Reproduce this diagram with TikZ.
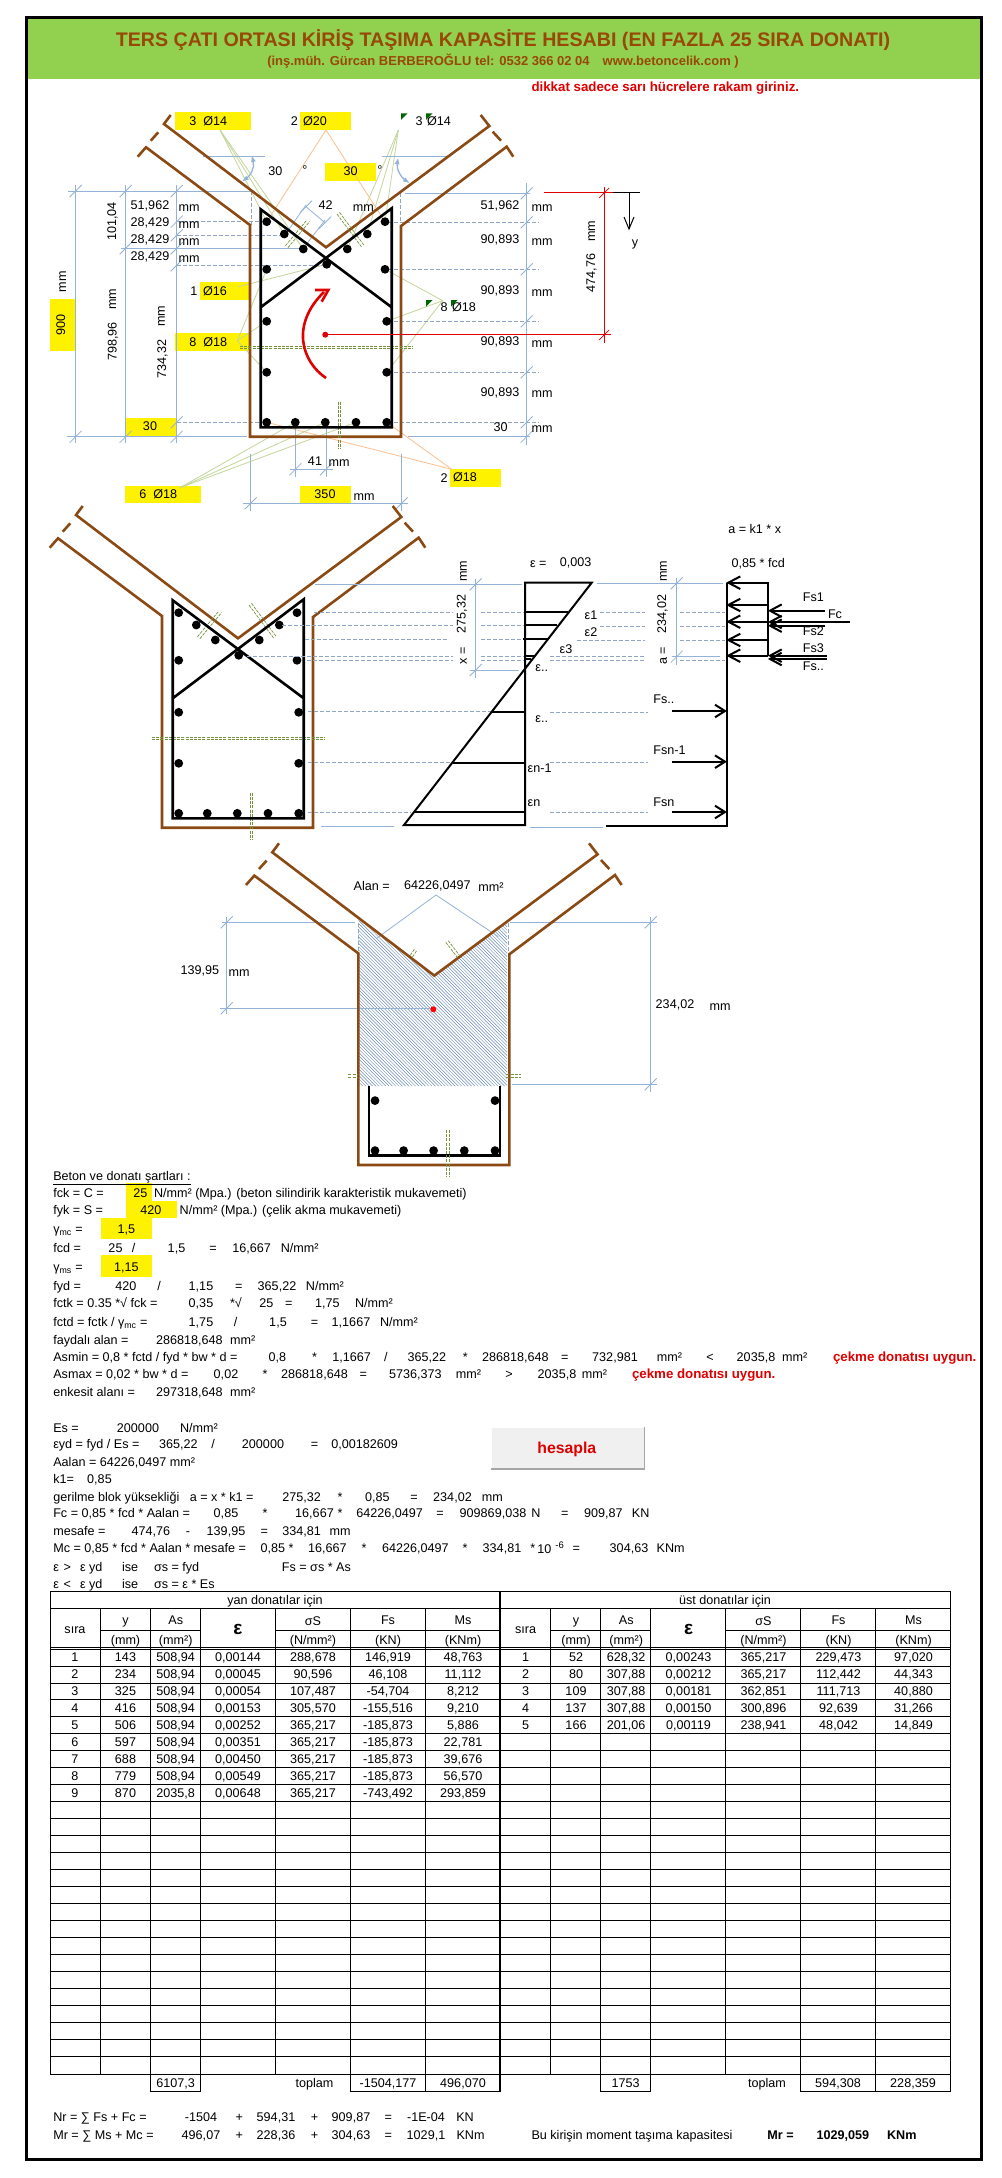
\documentclass[tikz,border=0pt]{standalone}
\usepackage{fontspec}
\setmainfont{Liberation Sans}
\usetikzlibrary{arrows.meta}
\definecolor{cbrown}{HTML}{8B4A14}
\definecolor{ctitle}{HTML}{984807}
\definecolor{cgreen}{HTML}{92D050}
\definecolor{cdim}{HTML}{95B3D7}
\definecolor{cdash}{HTML}{8FA5C2}
\definecolor{colive}{HTML}{76923C}
\definecolor{cleafg}{HTML}{C3D69B}
\definecolor{cleafo}{HTML}{FAC090}
\definecolor{cmark}{HTML}{006400}
\definecolor{chatch}{HTML}{6C8CB5}
\definecolor{cred}{HTML}{E00000}
\newcommand{\fN}{\fontsize{12.6}{15}\selectfont}
\newcommand{\fR}{\fontsize{13.3}{15}\selectfont\bfseries}
\tikzset{
 txt/.style={inner sep=0pt,outer sep=0pt,font=\fN,text=black},
 brn/.style={draw=cbrown,line width=2.6pt,line join=miter},
 stir/.style={draw=black,line width=2.6pt,line join=miter},
 thk/.style={draw=black,line width=2pt},
 dimline/.style={draw=cdim,line width=0.8pt},
 dimdash/.style={draw=cdash,line width=0.8pt,dash pattern=on 4pt off 2pt},
 oliv/.style={draw=colive,line width=0.7pt,dash pattern=on 3pt off 1.2pt},
 leafg/.style={draw=cleafg,line width=0.8pt},
 leafo/.style={draw=cleafo,line width=0.8pt},
 tbl/.style={draw=black,line width=0.9pt},
 yel/.style={fill=yellow,draw=none}
}
% text helpers
\newcommand{\tL}[3]{\node[txt,anchor=base west] at (#1,#2+4.5) {#3};}
\newcommand{\tC}[3]{\node[txt,anchor=base] at (#1,#2+4.5) {#3};}
\newcommand{\tV}[3]{\node[txt,anchor=base,rotate=90] at (#1+4.5,#2) {#3};}
\newcommand{\yB}[4]{\fill[yel] (#1,#2) rectangle (#3,#4);}
\newcommand{\dT}[2]{\draw[dimline] (#1-6,#2+6) -- (#1+6,#2-6);}
\newcommand{\gT}[2]{\fill[cmark] (#1,#2) -- (#1+6.5,#2) -- (#1,#2+6.5) -- cycle;}
\newcommand{\rB}[2]{\fill[black] (#1,#2) circle (4.4);}
% beam geometry
\newcommand{\brownV}{%
 \draw[brn] (137.7,156.7)--(146,147.3)--(250,225)--(250,436.7)--(401,436.7)--(401,226)--(506.7,146.7)--(513.3,156.7);
 \draw[brn] (170.7,115)--(164,124)--(326,247.3)--(489.3,126)--(480.7,115);
 \draw[brn] (150.7,140.7)--(158.3,132.3);
 \draw[brn] (492.7,131.7)--(501,140.7);
}
\newcommand{\fullStir}{%
 \draw[stir] (391.7,307.3)--(260.7,209.3)--(260.7,427.3)--(391.7,427.3)--(391.7,208.3)--(260.7,307.3);
 \foreach \a/\b in {266.7/221.7,284.3/234,303.3/249,347.3/249,367.3/234,385/221.7,326.7/264.3,266.7/269.3,385/269.3,266.7/321.3,386.7/321.3,266.7/372.3,386.7/372.3}{\rB{\a}{\b}}
 \foreach \a in {266.7,295.3,325.3,356,386.7}{\rB{\a}{422.3}}
}
\newcommand{\olives}{%
 \draw[oliv] (240,346)--(413,346); \draw[oliv] (240,348.7)--(413,348.7);
 \draw[oliv] (338.3,401.7)--(338.3,448.3); \draw[oliv] (340.7,401.7)--(340.7,448.3);
 \draw[oliv] (285.5,245.7)--(307.1,219.7); \draw[oliv] (287.9,247.7)--(309.5,221.7);
 \draw[oliv] (339.5,212.4)--(363.9,245.1); \draw[oliv] (337.1,214.2)--(361.5,246.9);
}
\newcommand{\rowT}[9]{%
 \pgfmathsetmacro{\ry}{1657.3+(#2-1)*16.97}
 \tC{#1+25}{\ry}{#3}\tC{#1+75.5}{\ry}{#4}\tC{#1+125.7}{\ry}{#5}\tC{#1+188}{\ry}{#6}\tC{#1+263}{\ry}{#7}\tC{#1+338}{\ry}{#8}\tC{#1+413}{\ry}{#9}
}
\newcommand{\headT}[1]{%
 \tC{#1+25}{1629}{sıra}\tC{#1+75.5}{1620}{y}\tC{#1+75.5}{1640}{(mm)}\tC{#1+125.7}{1620}{As}\tC{#1+125.7}{1640}{(mm²)}
 \node[txt,anchor=base,font=\fontsize{19}{20}\selectfont\bfseries] at (#1+188,1634.5) {ε};
 \tC{#1+263}{1621}{σS}\tC{#1+263}{1640}{(N/mm²)}\tC{#1+338}{1620}{Fs}\tC{#1+338}{1640}{(KN)}\tC{#1+413}{1620}{Ms}\tC{#1+413}{1640}{(KNm)}
}
\begin{document}
\begin{tikzpicture}[x=1pt,y=-1pt]
\useasboundingbox (0,0) rectangle (1001,2178);
\fill[white] (0,0) rectangle (1001,2178);
% header
\fill[cgreen] (26,18) rectangle (981,79);
\draw[black,line width=3pt] (26,18) rectangle (981,2159);
\node[txt,anchor=base,text=ctitle,font=\fontsize{19.65}{21}\selectfont\bfseries] at (503,47) {TERS ÇATI ORTASI KİRİŞ TAŞIMA KAPASİTE HESABI (EN FAZLA 25 SIRA DONATI)};
\node[txt,anchor=base,text=ctitle,font=\fontsize{13}{15}\selectfont\bfseries] at (503,66) {(inş.müh. Gürcan BERBEROĞLU tel: 0532 366 02 04\quad www.betoncelik.com )};
\node[txt,anchor=base west,text=cred,font=\fR] at (531.5,91.8) {dikkat sadece sarı hücrelere rakam giriniz.};
% ---------- beam 1 yellow
\yB{175}{112.3}{251}{130}\yB{300}{112.3}{351}{130}\yB{325}{162.7}{375.7}{181}
\yB{50}{299}{75}{350.7}\yB{200}{282}{250}{300}\yB{175}{332.7}{250}{350.7}
\yB{126}{418}{176.7}{436}\yB{300}{486}{351}{503.3}\yB{125}{486}{201}{503.3}\yB{450}{469}{501}{486.7}
% leaders
\foreach \a/\b in {266.7/221.7,284.3/234,303.3/249}{\draw[leafg] (220,130)--(\a,\b);}
\foreach \a/\b in {347.3/249,367.3/234,385/221.7}{\draw[leafg] (398.3,130)--(\a,\b);}
\draw[leafo] (326,130)--(266.7,221.7); \draw[leafo] (326,130)--(385,221.7);
\draw[leafg] (238.3,286.7)--(326.7,264.3);
\foreach \a/\b in {266.7/269.3,266.7/321.3,266.7/372.3}{\draw[leafg] (237.3,340.7)--(\a,\b);}
\foreach \a/\b in {385/269.3,386.7/321.3,386.7/372.3}{\draw[leafg] (442.7,300.7)--(\a,\b);}
\foreach \a in {295.3,325.3,356}{\draw[leafg] (180,487.7)--(\a,422.3);}
\draw[leafo] (451.7,469.3)--(266.7,422.3); \draw[leafo] (451.7,469.3)--(386.7,422.3);
% dims left
\draw[dimline] (75.7,185)--(75.7,443); \draw[dimline] (125.7,185)--(125.7,443); \draw[dimline] (176.7,185)--(176.7,443);
\draw[dimline] (68.3,191)--(251.7,191); \draw[dimline] (67.3,436.7)--(246.7,436.7);
\draw[dimline] (120.7,248.3)--(303,248.3);
\draw[dimdash] (176.7,221.7)--(263,221.7); \draw[dimdash] (176.7,235.3)--(285,235.3); \draw[dimdash] (176.7,265.3)--(326.7,265.3);
\draw[dimdash] (176.7,422.3)--(262,422.3);
\foreach \a/\b in {75.7/191,125.7/191,176.7/191,75.7/436.7,125.7/436.7,176.7/436.7,125.7/248.3,176.7/221.7,176.7/235.3,176.7/248.3,176.7/265.3,176.7/422.3}{\dT{\a}{\b}}
\draw[dimdash] (251.7,191)--(251.7,225); \draw[dimdash] (400.7,193.3)--(400.7,221.7);
% dims right
\draw[dimline] (526.7,183)--(526.7,445);
\draw[dimline] (405,193.3)--(530,193.3); \draw[dimline] (408.3,436.7)--(530,436.7);
\foreach \b in {222.3,269.3,321.3,372.3,422.3}{\draw[dimdash] (388,\b)--(539,\b);}
\foreach \b in {193.3,222.3,269.3,321.3,372.3,422.3,436.7}{\dT{526.7}{\b}}
% angle dims
\draw[dimline] (203.3,156.7)--(265,156.7); \draw[dimline] (381.7,156.7)--(446.7,156.7);
\draw[draw=cdim,line width=1.3pt,{Latex[length=7pt,width=5pt]}-{Latex[length=7pt,width=5pt]}] (251.7,155) .. controls (255,168) and (250,176) .. (241.7,181.7);
\draw[draw=cdim,line width=1.3pt,{Latex[length=7pt,width=5pt]}-{Latex[length=7pt,width=5pt]}] (398.3,157.3) .. controls (396,170) and (402,178) .. (410,183.3);
% 42 dim
\draw[dimline] (306,205)--(285,235); \draw[dimline] (325,220)--(303.3,248.3); \draw[dimline] (306,206.7)--(325,222.7);
\dT{306}{206.7}\dT{325}{222.7}
% 41 and 350 dims
\draw[dimline] (295.3,422.3)--(295.3,477); \draw[dimline] (326,422.3)--(326,477); \draw[dimline] (290,469.3)--(332.7,469.3);
\dT{295.3}{469.3}\dT{326}{469.3}
\draw[dimline] (243.3,503.3)--(407.7,503.3); \draw[dimline] (250.7,454.3)--(250.7,511); \draw[dimline] (401.7,454.3)--(401.7,511);
\dT{250.7}{503.3}\dT{401.7}{503.3}
% beam 1
\brownV\olives\fullStir
% red
\fill[cred] (325.3,334.7) circle (3);
\draw[cred,line width=1pt] (325.3,334.7)--(611,334.7);
\draw[cred,line width=1pt] (543.6,193)--(613,193);
\draw[cred,line width=0.7pt] (604,187)--(604,343);
\draw[cred,line width=0.7pt] (599,198)--(609,188); \draw[cred,line width=0.7pt] (599,340)--(609,330);
\draw[cred,line width=2.6pt] (326,378) .. controls (302,362) and (290,325) .. (324,292);
\draw[cred,line width=2.6pt] (315,290)--(328.3,290)--(321.7,301.7);
\draw[black,line width=1pt] (613,193)--(640,193);
\draw[black,line width=1pt] (629,193)--(629,229);
\draw[black,line width=1pt] (624,217)--(629,229)--(634,217);
\tC{635}{241.7}{y}
\tV{590.5}{273}{474,76}\tV{590.5}{231}{mm}
% beam 1 labels
\tC{208.3}{120.7}{3\ \ Ø14}\tC{294.3}{120.7}{2}\tC{315}{120.7}{Ø20}
\tC{419}{120.7}{3}\tC{439}{120.7}{Ø14}\gT{401}{113.3}\gT{426}{113.3}
\tC{275.3}{171}{30}\tC{305}{170}{°}\tC{350.7}{171}{30}\tC{380}{170}{°}
\tC{325.7}{205.3}{42}\tC{363.3}{206.7}{mm}
\foreach \b/\c in {205.3/206.7}{\tC{150}{\b}{51,962}\tC{189}{\c}{mm}}
\foreach \b/\c in {222.3/224,239/240.7,255.7/257.7}{\tC{150}{\b}{28,429}\tC{189}{\c}{mm}}
\tV{111.7}{221.7}{101,04}\tV{61.7}{281.7}{mm}\tV{60.7}{325}{900}
\tV{111.7}{299}{mm}\tV{112}{341.7}{798,96}\tV{161.7}{359}{734,32}\tV{160.3}{316}{mm}
\tC{194}{290.7}{1}\tC{215}{290.7}{Ø16}\tC{208.3}{341.7}{8\ \ Ø18}\tC{150}{426}{30}
\tC{500}{205.3}{51,962}\tC{542}{206.7}{mm}
\foreach \b/\c in {239/241,290/292,341/343,392.3/393.3}{\tC{500}{\b}{90,893}\tC{542}{\c}{mm}}
\tC{500.7}{426.7}{30}\tC{542}{428}{mm}
\tC{444}{307.3}{8}\tC{464}{307.3}{Ø18}\gT{426}{300}\gT{451}{300}
\tC{315}{460.7}{41}\tC{339}{461.7}{mm}\tC{325}{494}{350}\tC{364}{495.7}{mm}
\tC{158.3}{494}{6\ \ Ø18}\tC{444}{477.7}{2}\tC{465}{476.7}{Ø18}
% ---------- beam 2
\begin{scope}[shift={(-88,391)}]
\brownV\olives\fullStir
\end{scope}
% dashed across strain
\draw[dimdash] (314,612.3)--(452.5,612.3); \draw[dimdash] (481,612.3)--(526,612.3);
\draw[dimdash] (282,625.3)--(452.5,625.3); \draw[dimdash] (481,625.3)--(526,625.3);
\draw[dimdash] (305,639.3)--(449,639.3); \draw[dimdash] (481,639.3)--(526,639.3);
\draw[dimdash] (247,656.3)--(452.5,656.3); \draw[dimdash] (481,656.3)--(526,656.3);
\draw[dimdash] (307,660.3)--(452.5,660.3); \draw[dimdash] (481,660.3)--(526,660.3);
\draw[dimdash] (308,711.7)--(491,711.7);
\draw[dimdash] (308,762.7)--(452.5,762.7);
\draw[dimdash] (308,812.7)--(411,812.7);
\draw[dimdash] (600,612.3)--(645,612.3); \draw[dimdash] (680,612.3)--(725,612.3);
\draw[dimdash] (600,626.3)--(645,626.3); \draw[dimdash] (680,626.3)--(725,626.3);
\draw[dimdash] (576.7,640.3)--(645,640.3); \draw[dimdash] (680,640.3)--(725,640.3);
\draw[dimdash] (550,656.7)--(645,656.7); \draw[dimdash] (550,660)--(645,660); \draw[dimdash] (680,660)--(725,660);
\draw[dimdash] (550,712.3)--(648,712.3); \draw[dimdash] (550,762.3)--(648,762.3); \draw[dimdash] (550,812.3)--(648,812.3);
% solid dims strain
\draw[dimline] (314.5,584.3)--(521.7,584.3); \draw[dimline] (475.7,579.3)--(475.7,678.3); \draw[dimline] (470,670)--(519.3,670);
\dT{475.7}{584.3}\dT{475.7}{670}
\draw[dimline] (596.7,583.3)--(722.7,583.3); \draw[dimline] (676.7,578.3)--(676.7,665); \draw[dimline] (671.7,656.7)--(720,656.7);
\dT{676.7}{583.3}\dT{676.7}{656.7}
\draw[dimline] (530,827.3)--(603.3,827.3); \draw[dimline] (321,826.7)--(393.5,826.7);
% strain polygon
\draw[thk,line join=miter] (525,582.7)--(591.7,582.7)--(404,825)--(525,825)--cycle;
\foreach \a/\b/\c in {525/568.3/611.7,525/557.3/625,523.3/548.3/639,525/535/655.7,525/531/659.3,491.7/525/711.7,453.3/525/762.7,415/525/811.7}{\draw[thk] (\a,\c)--(\b,\c);}
% stress block
\draw[thk] (606,825.7)--(727.3,825.7)--(727.3,582.7);
\draw[thk] (767.7,581.7)--(767.7,656);
\foreach \b in {582.7,605,621.7,640,655.7}{
 \draw[thk] (727.3,\b)--(767.7,\b);
 \draw[thk] (740.3,\b-6.3)--(728.3,\b)--(740.3,\b+6.3);}
\foreach \b/\e in {610.7/825,622/850,625.7/825,655.7/826.7,659/826.7}{
 \draw[thk] (770,\b)--(\e,\b);
 \draw[thk] (781.7,\b-6.3)--(770,\b)--(781.7,\b+6.3);}
\foreach \b in {711,761.7,812}{
 \draw[thk] (671.7,\b)--(725,\b);
 \draw[thk] (715,\b-6.3)--(725,\b)--(715,\b+6.3);}
\tC{813.3}{597.3}{Fs1}\tC{835}{614.3}{Fc}\tC{813.3}{631}{Fs2}\tC{813.3}{648}{Fs3}\tC{813.3}{665.7}{Fs..}
\tL{653.3}{699.3}{Fs..}\tL{653.3}{750.3}{Fsn-1}\tL{653.3}{801.7}{Fsn}
\tL{728.3}{529.3}{a = k1 * x}\tL{731.7}{563.3}{0,85 * fcd}
\tC{538.3}{563.3}{ε =}\tC{575.7}{562.3}{0,003}
\tC{591}{615}{ε1}\tC{591}{632}{ε2}\tC{566}{649}{ε3}\tC{541.7}{666.7}{ε..}\tC{541.7}{717.7}{ε..}
\tL{527.7}{768.3}{εn-1}\tL{527.7}{802.3}{εn}
\tV{462.3}{571}{mm}\tV{461}{614}{275,32}\tV{462.3}{655.7}{x =}
\tV{662.3}{571}{mm}\tV{661.7}{614}{234,02}\tV{662.3}{655.7}{a =}
% ---------- beam 3
\begin{scope}
\clip (358.7,919.5)--(434.3,975.6)--(507,921.5)--(507,1086)--(358.7,1086)--cycle;
\foreach \c in {-730,-726.7,...,-410}{\draw[chatch,line width=0.45pt] (\c+880,880)--(\c+1100,1100);}
\end{scope}
\draw[dimdash] (358.7,922.7)--(358.7,955); \draw[dimdash] (508.3,922.7)--(508.3,955);
\draw[dimline] (221.7,922.3)--(355,922.3); \draw[dimline] (226.7,917)--(226.7,1014);
\draw[dimline] (220,1008.3)--(433.3,1008.3);
\dT{226.7}{922.3}\dT{226.7}{1008.3}
\draw[dimline] (510,922.3)--(657.3,922.3); \draw[dimline] (650.7,916.7)--(650.7,1091.7); \draw[dimline] (511.7,1084.3)--(657.3,1084.3);
\dT{650.7}{922.3}\dT{650.7}{1084.3}
\draw[dimline] (436,895)--(376.7,938.3); \draw[dimline] (436,895)--(498.3,936.7);
\begin{scope}[shift={(108.3,728.3)}]
\brownV
\draw[stir] (260.7,358)--(260.7,427.3)--(391.7,427.3)--(391.7,358);
\rB{266.7}{372.3}\rB{386.7}{372.3}
\foreach \a in {266.7,295.3,325.3,356,386.7}{\rB{\a}{422.3}}
\draw[oliv] (338.3,401.7)--(338.3,448.3); \draw[oliv] (340.7,401.7)--(340.7,448.3);
\draw[oliv] (240,346)--(250,346); \draw[oliv] (240,348.7)--(250,348.7);
\draw[oliv] (398,346)--(413,346); \draw[oliv] (398,348.7)--(413,348.7);
\draw[oliv] (302,227)--(306,221); \draw[oliv] (304.2,228.6)--(308.2,222.6);
\draw[oliv] (337.5,214)--(349,229); \draw[oliv] (340,212.5)--(351.5,227.5);
\end{scope}
\fill[red] (433.3,1009.3) circle (3);
\tC{371.7}{885.7}{Alan =}\tC{437.3}{885}{64226,0497}\tC{491}{886.7}{mm²}
\tL{180.6}{970}{139,95}\tC{239}{971.7}{mm}
\tC{675}{1004}{234,02}\tC{720}{1005.5}{mm}
% ---------- text block
\yB{125.8}{1183.3}{151.5}{1200.7}\yB{125.8}{1200.7}{177}{1217.7}\yB{100.8}{1217.7}{152}{1239}\yB{100.8}{1254.7}{152}{1277.3}
\tL{53.3}{1175.7}{\underline{Beton ve donatı şartları :}}
\tL{53.3}{1192.7}{fck = C =}\tC{140.5}{1192.7}{25}\tL{154}{1192.7}{N/mm² (Mpa.) (beton silindirik karakteristik mukavemeti)}
\tL{53.3}{1210}{fyk = S =}\tC{150.8}{1210}{420}\tL{179.7}{1210}{N/mm² (Mpa.) (çelik akma mukavemeti)}
\tL{53.3}{1229}{γ\textsubscript{mc} =}\tC{126.4}{1229}{1,5}
\tL{53.3}{1247.7}{fcd =}\tC{115.5}{1247.7}{25}\tC{133.5}{1247.7}{/}\tC{176.5}{1247.7}{1,5}\tC{213}{1247.7}{=}\tC{251.6}{1247.7}{16,667}\tC{299.7}{1247.7}{N/mm²}
\tL{53.3}{1266.7}{γ\textsubscript{ms} =}\tC{126.4}{1266.7}{1,15}
\tL{53.3}{1285.7}{fyd =}\tC{125.8}{1285.7}{420}\tC{159}{1285.7}{/}\tC{201}{1285.7}{1,15}\tC{238.8}{1285.7}{=}\tC{277}{1285.7}{365,22}\tC{324.8}{1285.7}{N/mm²}
\tL{53.3}{1302.7}{fctk = 0.35 *√ fck =}\tC{201}{1302.7}{0,35}\tC{236}{1302.7}{*√}\tC{266.4}{1302.7}{25}\tC{288.8}{1302.7}{=}\tC{327.3}{1302.7}{1,75}\tC{374}{1302.7}{N/mm²}
\tL{53.3}{1321.7}{fctd = fctk / γ\textsubscript{mc} =}\tC{201}{1321.7}{1,75}\tC{235.6}{1321.7}{/}\tC{278}{1321.7}{1,5}\tC{314.5}{1321.7}{=}\tC{351}{1321.7}{1,1667}\tC{399}{1321.7}{N/mm²}
\tL{53.3}{1340.3}{faydalı alan =}\tC{189.3}{1340.3}{286818,648}\tC{242.6}{1340.3}{mm²}
\tL{53.3}{1357.3}{Asmin = 0,8 * fctd / fyd * bw * d =}\tC{277.3}{1357.3}{0,8}\tC{314.5}{1357.3}{*}\tC{351.7}{1357.3}{1,1667}\tC{385.8}{1357.3}{/}\tC{426.8}{1357.3}{365,22}\tC{465.3}{1357.3}{*}\tC{515.4}{1357.3}{286818,648}\tC{564.8}{1357.3}{=}\tC{615}{1357.3}{732,981}\tC{669.5}{1357.3}{mm²}\tC{710}{1357.3}{<}\tC{756}{1357.3}{2035,8}\tC{794.6}{1357.3}{mm²}
\node[txt,anchor=base west,text=cred,font=\fR] at (833,1361.8) {çekme donatısı uygun.};
\tL{53.3}{1374.3}{Asmax = 0,02 * bw * d =}\tC{226}{1374.3}{0,02}\tC{265}{1374.3}{*}\tC{314.5}{1374.3}{286818,648}\tC{363.3}{1374.3}{=}\tC{415.3}{1374.3}{5736,373}\tC{468.5}{1374.3}{mm²}\tC{509}{1374.3}{>}\tC{557}{1374.3}{2035,8}\tC{594.4}{1374.3}{mm²}
\node[txt,anchor=base west,text=cred,font=\fR] at (632,1378.8) {çekme donatısı uygun.};
\tL{53.3}{1392.3}{enkesit alanı =}\tC{189.3}{1392.3}{297318,648}\tC{242.6}{1392.3}{mm²}
\tL{53.3}{1428.3}{Es =}\tC{138}{1428.3}{200000}\tC{199}{1428.3}{N/mm²}
\tL{53.3}{1444.3}{εyd = fyd / Es =}\tC{178.4}{1444.3}{365,22}\tC{213}{1444.3}{/}\tC{263}{1444.3}{200000}\tC{314.5}{1444.3}{=}\tC{364.6}{1444.3}{0,00182609}
\tL{53.3}{1461.7}{Aalan = 64226,0497 mm²}
\tL{53.3}{1479}{k1=}\tC{99.5}{1479}{0,85}
\tL{53.3}{1497.3}{gerilme blok yüksekliği\ \ \ a = x * k1 =}\tC{301.7}{1497.3}{275,32}\tC{340}{1497.3}{*}\tC{377.4}{1497.3}{0,85}\tC{414}{1497.3}{=}\tC{452.5}{1497.3}{234,02}\tC{492.3}{1497.3}{mm}
\tL{53.3}{1513.3}{Fc = 0,85 * fcd * Aalan =}\tC{226}{1513.3}{0,85}\tC{265}{1513.3}{*}\tC{314.5}{1513.3}{16,667}\tC{340}{1513.3}{*}\tC{389.6}{1513.3}{64226,0497}\tC{440}{1513.3}{=}\tC{493}{1513.3}{909869,038}\tC{536}{1513.3}{N}\tC{564.8}{1513.3}{=}\tC{603.3}{1513.3}{909,87}\tC{640.6}{1513.3}{KN}
\tL{53.3}{1530.7}{mesafe =}\tC{150.8}{1530.7}{474,76}\tC{188}{1530.7}{-}\tC{226}{1530.7}{139,95}\tC{264.4}{1530.7}{=}\tC{301.7}{1530.7}{334,81}\tC{340}{1530.7}{mm}
\tL{53.3}{1548.3}{Mc = 0,85 * fcd * Aalan * mesafe =}\tC{277}{1548.3}{0,85 *}\tC{327.3}{1548.3}{16,667}\tC{364}{1548.3}{*}\tC{415.3}{1548.3}{64226,0497}\tC{465}{1548.3}{*}\tC{502}{1548.3}{334,81}\tC{532.7}{1548.3}{*}\tC{544.3}{1549}{10}\node[txt,anchor=base,font=\fontsize{9.5}{11}\selectfont] at (559.7,1548) {-6};\tC{576.4}{1548.3}{=}\tC{629}{1548.3}{304,63}\tC{670.7}{1548.3}{KNm}
\tL{53.3}{1566.7}{ε}\tC{67.4}{1566.7}{>}\tL{80}{1566.7}{ε yd}\tL{122}{1566.7}{ise}\tL{154}{1566.7}{σs = fyd}\tC{316.4}{1566.7}{Fs = σs * As}
\tL{53.3}{1584}{ε}\tC{67.4}{1584}{<}\tL{80}{1584}{ε yd}\tL{122}{1584}{ise}\tL{154}{1584}{σs = ε * Es}
% button
\fill[gray!70] (491,1426.7) rectangle (645,1470);
\fill[white] (491,1426.7) rectangle (643.8,1468);
\fill[black!6] (492,1427.7) rectangle (643.8,1468);
\node[txt,anchor=base,text=cred,font=\fontsize{15.8}{18}\selectfont\bfseries] at (566.8,1453) {hesapla};
% ---------- table
\draw[tbl] (50,1591.7) rectangle (950.7,2074.3);
\draw[tbl] (50,1608.3)--(950.7,1608.3);
\draw[tbl] (50,1647.5)--(950.7,1647.5); \draw[tbl] (50,1649.6)--(950.7,1649.6);
\foreach \a in {100.7,150.7,275.7,350.7,425.7,550.7,600.7,725.7,800.7,875.7}{\draw[tbl] (\a,1630.7)--(\a,1647.5);}
\foreach \a/\b in {100.7/150.7,150.7/200.7,275.7/350.7,350.7/425.7,425.7/500,550.7/600.7,600.7/650.7,725.7/800.7,800.7/875.7,875.7/950.7}{\draw[tbl] (\a,1630.7)--(\b,1630.7);}
\foreach \a in {100.7,150.7,200.7,275.7,350.7,425.7,550.7,600.7,650.7,725.7,800.7,875.7}{\draw[tbl] (\a,1608.3)--(\a,2074.3);}
\foreach \i in {1,...,24}{\draw[tbl] (50,1649+\i*16.97)--(950.7,1649+\i*16.97);}
\draw[black,line width=2.4pt] (500,1591.7)--(500,2091.7);
\draw[tbl] (150.7,2074.3)--(150.7,2091.7)--(200.7,2091.7)--(200.7,2074.3);
\draw[tbl] (350.7,2074.3)--(350.7,2091.7)--(500,2091.7); \draw[tbl] (425.7,2074.3)--(425.7,2091.7);
\draw[tbl] (600.7,2074.3)--(600.7,2091.7)--(650.7,2091.7)--(650.7,2074.3);
\draw[tbl] (800.7,2074.3)--(800.7,2091.7)--(950.7,2091.7)--(950.7,2074.3); \draw[tbl] (875.7,2074.3)--(875.7,2091.7);
\tC{275}{1600}{yan donatılar için}\tC{725}{1600}{üst donatılar için}
\headT{50}\headT{500.5}
\rowT{50}{1}{1}{143}{508,94}{0,00144}{288,678}{146,919}{48,763}
\rowT{50}{2}{2}{234}{508,94}{0,00045}{90,596}{46,108}{11,112}
\rowT{50}{3}{3}{325}{508,94}{0,00054}{107,487}{-54,704}{8,212}
\rowT{50}{4}{4}{416}{508,94}{0,00153}{305,570}{-155,516}{9,210}
\rowT{50}{5}{5}{506}{508,94}{0,00252}{365,217}{-185,873}{5,886}
\rowT{50}{6}{6}{597}{508,94}{0,00351}{365,217}{-185,873}{22,781}
\rowT{50}{7}{7}{688}{508,94}{0,00450}{365,217}{-185,873}{39,676}
\rowT{50}{8}{8}{779}{508,94}{0,00549}{365,217}{-185,873}{56,570}
\rowT{50}{9}{9}{870}{2035,8}{0,00648}{365,217}{-743,492}{293,859}
\rowT{500.5}{1}{1}{52}{628,32}{0,00243}{365,217}{229,473}{97,020}
\rowT{500.5}{2}{2}{80}{307,88}{0,00212}{365,217}{112,442}{44,343}
\rowT{500.5}{3}{3}{109}{307,88}{0,00181}{362,851}{111,713}{40,880}
\rowT{500.5}{4}{4}{137}{307,88}{0,00150}{300,896}{92,639}{31,266}
\rowT{500.5}{5}{5}{166}{201,06}{0,00119}{238,941}{48,042}{14,849}
\tC{175.7}{2083.3}{6107,3}\tC{314.5}{2083.3}{toplam}\tC{388}{2083.3}{-1504,177}\tC{463}{2083.3}{496,070}
\tC{625.7}{2083.3}{1753}\tC{767}{2083.3}{toplam}\tC{838}{2083.3}{594,308}\tC{913}{2083.3}{228,359}
% ---------- results
\tL{53.3}{2117.3}{Nr = ∑ Fs + Fc =}\tC{201}{2117.3}{-1504}\tC{239.4}{2117.3}{+}\tC{276}{2117.3}{594,31}\tC{314.5}{2117.3}{+}\tC{351}{2117.3}{909,87}\tC{388.3}{2117.3}{=}\tC{426}{2117.3}{-1E-04}\tC{465}{2117.3}{KN}
\tL{53.3}{2135}{Mr = ∑ Ms + Mc =}\tC{201}{2135}{496,07}\tC{239.4}{2135}{+}\tC{276}{2135}{228,36}\tC{314.5}{2135}{+}\tC{351}{2135}{304,63}\tC{388.3}{2135}{=}\tC{426}{2135}{1029,1}\tC{470.5}{2135}{KNm}
\tL{531.5}{2135}{Bu kirişin moment taşıma kapasitesi}
\node[txt,anchor=base,font=\fN\bfseries] at (780.5,2139.5) {Mr =};
\node[txt,anchor=base,font=\fN\bfseries] at (842.8,2139.5) {1029,059};
\node[txt,anchor=base,font=\fN\bfseries] at (901.8,2139.5) {KNm};
\end{tikzpicture}
\end{document}
